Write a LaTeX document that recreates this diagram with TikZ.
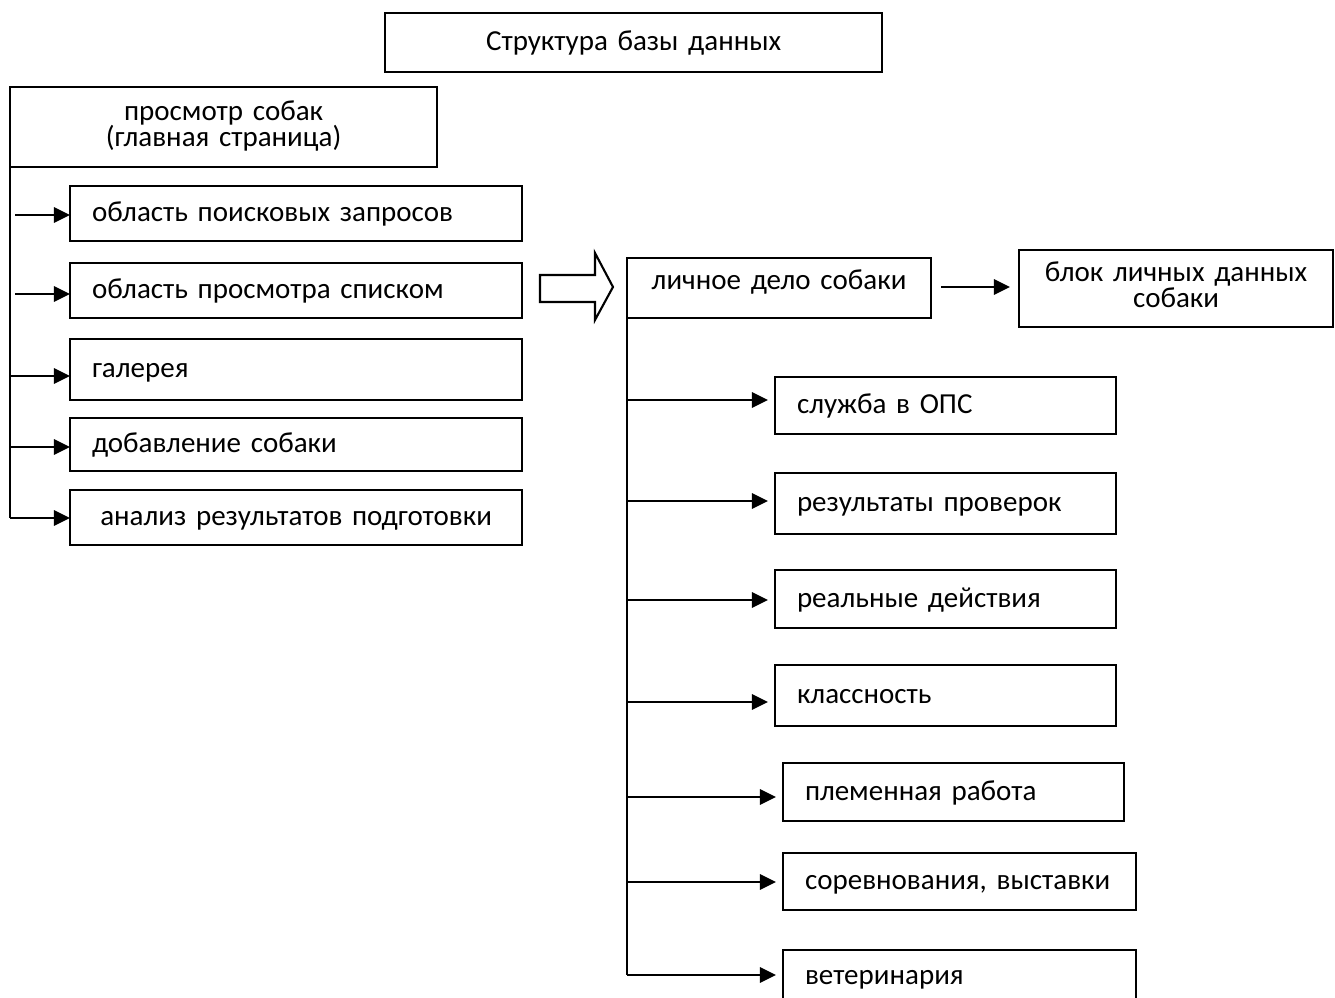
\documentclass[tikz,border=0pt]{standalone}
\usepackage{fontspec}
\setmainfont{Carlito}
\usetikzlibrary{arrows.meta}
\newcommand\myboxfont{\fontsize{8.25}{7.4}\selectfont\lineskiplimit=-10pt\relax}
\begin{document}
\begin{tikzpicture}[x=0.01cm,y=-0.01cm,
  box/.style={draw, line width=0.6pt, inner ysep=0pt, outer sep=0pt, anchor=north west, text height=1ex, text depth=0pt, font=\myboxfont},
  lbox/.style={box, inner xsep=0.22cm, align=left},
  cbox/.style={box, inner xsep=0pt, align=center},
  twoline/.style={text depth=0.30cm},
  conn/.style={line width=0.8pt, -{Triangle[length=0.16cm,width=0.15cm]}},
  trunk/.style={line width=0.8pt}]
\useasboundingbox (0,0) rectangle (1335,998);
% title
\node[cbox, minimum width=4.97cm, minimum height=0.59cm, text width=4.97cm] (title) at (385,13) {Структура базы данных};
% main
\node[cbox, twoline, minimum width=4.27cm, minimum height=0.80cm, text width=4.27cm] (main) at (10,87) {просмотр собак\\(главная страница)};
% left boxes
\node[lbox, text width=4.08cm, minimum height=0.55cm] (l1) at (70,186) {область поисковых запросов};
\node[lbox, text width=4.08cm, minimum height=0.55cm] (l2) at (70,263) {область просмотра списком};
\node[lbox, text width=4.08cm, minimum height=0.61cm] (l3) at (70,339) {галерея};
\node[lbox, text width=4.08cm, minimum height=0.53cm] (l4) at (70,418) {добавление собаки};
\node[cbox, text width=4.52cm, minimum height=0.55cm] (l5) at (70,490) {анализ результатов подготовки};
\coordinate (ltop) at (main.south west);
\coordinate (lbot) at (10,518);
\draw[trunk] (ltop) -- (lbot);
\coordinate (a1) at (15,215);
\coordinate (a2) at (15,294);
\draw[conn] (a1) -- (l1.west |- a1);
\draw[conn] (a2) -- (l2.west |- a2);
\draw[conn] (ltop |- 0,376) -- (l3.west |- 0,376);
\draw[conn] (ltop |- 0,447) -- (l4.west |- 0,447);
\draw[conn] (lbot) -- (l5.west |- lbot);
% block arrow
\draw[line width=0.6pt] (540,275) -- (595,275) -- (595,253) -- (613,287) -- (595,320) -- (595,302) -- (540,302) -- cycle;
% personal file
\node[cbox, text width=3.04cm, minimum height=0.60cm, text depth=0.14cm] (pd) at (627,258) {личное дело собаки};
\node[cbox, twoline, text width=3.14cm, minimum height=0.77cm] (bl) at (1019,250) {блок личных данных\\собаки};
\coordinate (pdr) at (941,287);
\coordinate (blin) at (1010,287);
\draw[conn] (pdr) -- (blin);
% right boxes
\node[lbox, text width=2.97cm, minimum height=0.57cm] (r1) at (775,377) {служба в ОПС};
\node[lbox, text width=2.97cm, minimum height=0.61cm] (r2) at (775,473) {результаты проверок};
\node[lbox, text width=2.97cm, minimum height=0.58cm] (r3) at (775,570) {реальные действия};
\node[lbox, text width=2.97cm, minimum height=0.61cm] (r4) at (775,665) {классность};
\node[lbox, text width=2.97cm, minimum height=0.58cm] (r5) at (783,763) {племенная работа};
\node[lbox, text width=3.09cm, minimum height=0.57cm] (r6) at (783,853) {соревнования, выставки};
\node[lbox, text width=3.09cm, minimum height=0.53cm] (r7) at (783,950) {ветеринария};
\coordinate (rtop) at (pd.south west);
\coordinate (rbot) at (627,975);
\draw[trunk] (rtop) -- (rbot);
\draw[conn] (rtop |- 0,400) -- ([xshift=-0.07cm]r1.west |- 0,400);
\draw[conn] (rtop |- 0,501) -- ([xshift=-0.07cm]r2.west |- 0,501);
\draw[conn] (rtop |- 0,600) -- ([xshift=-0.07cm]r3.west |- 0,600);
\draw[conn] (rtop |- 0,702) -- ([xshift=-0.07cm]r4.west |- 0,702);
\draw[conn] (rtop |- 0,797) -- ([xshift=-0.07cm]r5.west |- 0,797);
\draw[conn] (rtop |- 0,882) -- ([xshift=-0.07cm]r6.west |- 0,882);
\draw[conn] (rbot) -- ([xshift=-0.07cm]r7.west |- rbot);
\end{tikzpicture}
\end{document}
